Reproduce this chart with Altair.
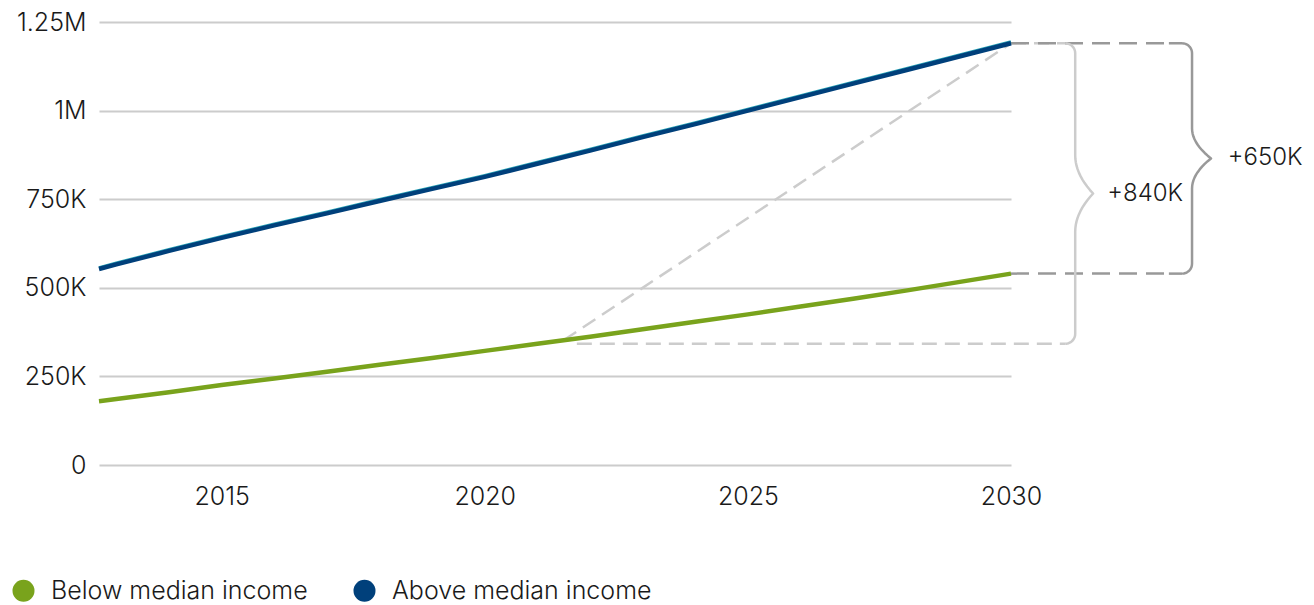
import altair as alt
import pandas as pd
import numpy as np

# ---------------- data ----------------
years = [2012.67, 2013, 2014, 2015, 2016, 2017, 2018, 2019, 2020, 2021,
         2022, 2023, 2024, 2025, 2026, 2027, 2028, 2029, 2030]
below_k = [180, 186, 205, 226, 244, 263, 283, 302, 322, 342,
           362, 383, 404, 425, 447, 469, 492, 516, 540]
above_k = [553, 566, 604, 641, 676, 710, 745, 779, 813, 850,
           887, 925, 962, 1000, 1038, 1076, 1114, 1152, 1190]
series_names = ["Below median income", "Above median income"]
series_colors = ["#79a31c", "#00407b"]
y_ticks = [0, 250000, 500000, 750000, 1000000, 1250000]
x_ticks = [2015, 2020, 2025, 2030]
gap_labels = ["+840K", "+650K"]

# annotation anchors (data units)
diag_start_year = 2021.5
horiz_start_year = 2021.75
horiz_level_k = 342
brace1_x, brace1_tip = 2031.22, 2031.56
brace2_x, brace2_tip = 2033.44, 2033.80
label1_x, label2_x = 2031.83, 2034.12

FONT = "Inter"
FS = 25
X_DOMAIN = [2012.67, 2030]
Y_DOMAIN = [0, 1250000]

rows = []
for name, vals in zip(series_names, [below_k, above_k]):
    for yr, v in zip(years, vals):
        rows.append({"year": yr, "value": v * 1000, "series": name})
df = pd.DataFrame(rows)
df_above = df[df.series == series_names[1]]

end_above = above_k[-1] * 1000
end_below = below_k[-1] * 1000
horiz_level = horiz_level_k * 1000
diag_start_val = float(np.interp(diag_start_year, years, below_k)) * 1000

RX = 0.19      # corner radius in years
RY = 28000     # corner radius in value units


def brace_points(x0, tip, y_top, y_bot, h, seg):
    pts = []
    cx, cy = x0 - RX, y_top - RY
    for phi in np.linspace(np.pi / 2, 0, 10):
        pts.append((cx + RX * np.cos(phi), cy + RY * np.sin(phi)))
    ymid = (y_top + y_bot) / 2
    pts.append((x0, ymid + h))
    for t in np.linspace(0, 1, 12)[1:]:
        pts.append((x0 + (tip - x0) * t * t, ymid + h * (1 - t)))
    for t in np.linspace(1, 0, 12)[1:]:
        pts.append((x0 + (tip - x0) * t * t, ymid - h * (1 - t)))
    pts.append((x0, y_bot + RY))
    cx, cy = x0 - RX, y_bot + RY
    for phi in np.linspace(0, -np.pi / 2, 10)[1:]:
        pts.append((cx + RX * np.cos(phi), cy + RY * np.sin(phi)))
    return [{"year": p[0], "value": p[1], "i": k, "seg": seg} for k, p in enumerate(pts)]


brace_light = pd.DataFrame(brace_points(brace1_x, brace1_tip, end_above, horiz_level, 108000, "b1"))
brace_dark = pd.DataFrame(brace_points(brace2_x, brace2_tip, end_above, end_below, 85000, "b2"))

light_dash = pd.DataFrame([
    {"year": diag_start_year, "value": diag_start_val, "seg": "diag", "i": 0},
    {"year": 2030, "value": end_above, "seg": "diag", "i": 1},
    {"year": 2030, "value": end_above, "seg": "top", "i": 0},
    {"year": brace1_x - RX, "value": end_above, "seg": "top", "i": 1},
    {"year": horiz_start_year, "value": horiz_level, "seg": "bot", "i": 0},
    {"year": brace1_x - RX, "value": horiz_level, "seg": "bot", "i": 1},
])
dark_dash = pd.DataFrame([
    {"year": 2030, "value": end_above, "seg": "top", "i": 0},
    {"year": brace2_x - RX - 0.25, "value": end_above, "seg": "top", "i": 1},
    {"year": 2030, "value": end_below, "seg": "bot", "i": 0},
    {"year": brace2_x - RX - 0.25, "value": end_below, "seg": "bot", "i": 1},
])
dark_stub = pd.DataFrame([
    {"year": brace2_x - RX - 0.25, "value": end_above, "seg": "top", "i": 0},
    {"year": brace2_x - RX, "value": end_above, "seg": "top", "i": 1},
    {"year": brace2_x - RX - 0.25, "value": end_below, "seg": "bot", "i": 0},
    {"year": brace2_x - RX, "value": end_below, "seg": "bot", "i": 1},
])
labels_df = pd.DataFrame([
    {"year": label1_x, "value": (end_above + horiz_level) / 2, "t": gap_labels[0]},
    {"year": label2_x, "value": (end_above + end_below) / 2, "t": gap_labels[1]},
])

xs = alt.Scale(domain=X_DOMAIN, nice=False, zero=False)
ys = alt.Scale(domain=Y_DOMAIN, nice=False, zero=True)

y_label_expr = ("datum.value == 0 ? '0' : (datum.value >= 1000000 ? "
                "format(datum.value / 1000000, '.3~g') + 'M' : "
                "format(datum.value / 1000, '.0f') + 'K')")

x_axis = alt.X("year:Q", scale=xs, title=None,
               axis=alt.Axis(values=x_ticks, format="d", grid=False, ticks=False,
                             domain=False, labelFontSize=FS, labelFont=FONT,
                             labelColor="#1a1a1a", labelPadding=19,
                             gridColor="transparent",
                             labelFlush=False, labelFontWeight=300))
y_axis = alt.Y("value:Q", scale=ys, title=None,
               axis=alt.Axis(values=y_ticks, labelExpr=y_label_expr, grid=True,
                             gridColor="#cccccc", gridWidth=2, ticks=False,
                             domain=False, labelFontSize=FS, labelFont=FONT,
                             labelColor="#1a1a1a", labelPadding=13,
                             labelFlush=False, labelFontWeight=300))

light_lines = alt.Chart(light_dash).mark_line(
    color="#cccccc", strokeWidth=2.5, strokeDash=[15, 8]
).encode(x=x_axis, y=y_axis, detail="seg:N", order="i:Q")

dark_lines = alt.Chart(dark_dash).mark_line(
    color="#999999", strokeWidth=2.5, strokeDash=[18, 9]
).encode(x=x_axis, y=y_axis, detail="seg:N", order="i:Q")

dark_stubs = alt.Chart(dark_stub).mark_line(
    color="#999999", strokeWidth=2.5
).encode(x=x_axis, y=y_axis, detail="seg:N", order="i:Q")

brace1 = alt.Chart(brace_light).mark_line(
    color="#cccccc", strokeWidth=2.5, strokeJoin="round"
).encode(x=x_axis, y=y_axis, order="i:Q")

brace2 = alt.Chart(brace_dark).mark_line(
    color="#999999", strokeWidth=2.5, strokeJoin="round"
).encode(x=x_axis, y=y_axis, order="i:Q")

gap_text = alt.Chart(labels_df).mark_text(
    align="left", baseline="middle", fontSize=24, font=FONT,
    color="#1a1a1a", fontWeight=300
).encode(x=x_axis, y=y_axis, text="t:N")

teal_edge = alt.Chart(df_above).mark_line(
    color="#2aa7b8", strokeWidth=3.5, yOffset=-1.2
).encode(x=x_axis, y=y_axis)

lines = alt.Chart(df).mark_line(strokeWidth=4.5).encode(
    x=x_axis, y=y_axis,
    stroke=alt.Stroke("series:N",
                      scale=alt.Scale(domain=series_names, range=series_colors),
                      legend=None),
    detail="series:N")

legend_pts = alt.Chart(df).mark_circle(opacity=0).encode(
    x=x_axis, y=y_axis,
    color=alt.Color("series:N",
                    scale=alt.Scale(domain=series_names, range=series_colors),
                    sort=series_names,
                    legend=alt.Legend(title=None, orient="none", legendX=-88,
                                      legendY=556, direction="horizontal",
                                      symbolType="circle", symbolSize=484,
                                      symbolOpacity=1, symbolStrokeWidth=0,
                                      labelFontSize=FS, labelFont=FONT,
                                      labelFontWeight=300, labelLimit=0,
                                      labelColor="#1a1a1a", labelOffset=15,
                                      columnPadding=44)))

chart = alt.layer(
    light_lines, dark_lines, dark_stubs, brace1, brace2, gap_text,
    teal_edge, lines, legend_pts
).resolve_scale(color="independent", stroke="independent").properties(
    width=912, height=443,
    padding={"left": 91, "top": 14, "right": 295, "bottom": 148},
    autosize=alt.AutoSizeParams(type="none"),
    view=alt.ViewBackground(stroke="transparent", strokeWidth=0),
).configure_view(stroke="transparent", strokeWidth=0).configure_axisX(
    grid=False).configure(font=FONT)

chart.save("out.html", embed_options={"renderer": "svg", "actions": False})
